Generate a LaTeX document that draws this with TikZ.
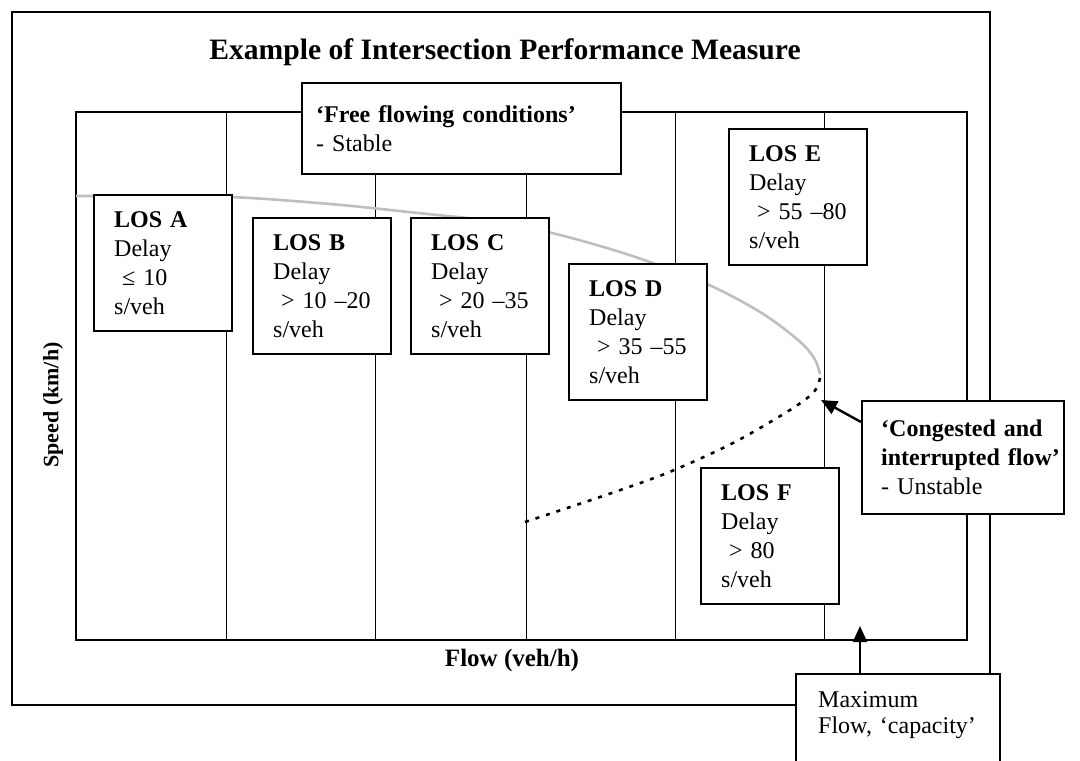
\documentclass[tikz,border=0pt]{standalone}
\usepackage{fontspec}
\setmainfont{Liberation Serif}
\usetikzlibrary{arrows.meta}
\begin{document}
\begin{tikzpicture}[x=0.5pt,y=-0.5pt,
  bodyfont/.style={font=\fontsize{12}{14.5}\selectfont},
  box/.style={draw, line width=1.2pt, fill=white, anchor=north west, align=left,
     inner ysep=0pt, bodyfont},
  losbox/.style={box, inner xsep=10pt, text width=49pt, minimum height=68pt},
  gridline/.style={line width=0.5pt},
  plotframe/.style={line width=1pt},
  arr/.style={line width=1.2pt, -{Triangle[length=8pt,width=7pt]}},
]
\useasboundingbox (0,0) rectangle (1080,760);
\clip (0,0) rectangle (1080,760);
\fill[white] (0,0) rectangle (1080,760);
% outer frame
\draw[line width=0.7pt] (12,12) rectangle (990,705);
% plot frame and grid
\draw[plotframe] (76,112) rectangle (967,640);
\foreach \x in {226,375,526,675,824} \draw[gridline] (\x,112) -- (\x,640);
% speed-flow curves
\draw[gray!50, line width=1.3pt] plot[smooth, tension=0.6] coordinates
  {(76,196) (150,196) (231,197) (330,204) (418,213) (500,222) (548,232) (600,246) (650,262) (707,284) (760,312) (798,340) (814,358) (820,374)};
\draw[line width=1.3pt, dash pattern=on 2pt off 3.5pt] plot[smooth] coordinates
  {(820,378) (814,392) (790,410) (733,443) (667,473) (600,497) (522,523)};
% title and axis labels
\node[font=\fontsize{14.8}{17}\selectfont\bfseries] (title) at (505,52) {Example of Intersection Performance Measure};
\node[font=\fontsize{11}{13}\selectfont\bfseries, rotate=90] (ylab) at (53,405) {Speed (km/h)};
\node[font=\fontsize{12.5}{15}\selectfont\bfseries] (xlab) at (512,660) {Flow (veh/h)};
% boxes
\node[box, inner xsep=7pt, text width=145.5pt, minimum height=45.5pt] (free) at (301,82)
  {\textbf{‘Free flowing conditions’}\\- Stable};
\node[losbox] (losA) at (93,194) {\textbf{LOS A}\\Delay\\\ ≤ 10\\s/veh};
\node[losbox] (losB) at (252,217) {\textbf{LOS B}\\Delay\\\ > 10 –20\\s/veh};
\node[losbox] (losC) at (410,217) {\textbf{LOS C}\\Delay\\\ > 20 –35\\s/veh};
\node[losbox] (losD) at (568,263) {\textbf{LOS D}\\Delay\\\ > 35 –55\\s/veh};
\node[losbox] (losE) at (728,128) {\textbf{LOS E}\\Delay\\\ > 55 –80\\s/veh};
\node[losbox] (losF) at (700,467) {\textbf{LOS F}\\Delay\\\ > 80\\s/veh};
\node[box, inner xsep=9.5pt, text width=82pt, minimum height=56.5pt] (cong) at (861,400)
  {\textbf{‘Congested~and}\\\textbf{interrupted~flow’}\\- Unstable};
\node[box, inner xsep=11pt, text width=80pt, minimum height=64pt, font=\fontsize{12}{13}\selectfont] (maxb) at (795,673)
  {Maximum\\Flow,~‘capacity’\\\mbox{}\\\mbox{}};
% arrows
\coordinate (jam) at (821,400);
\coordinate (cap) at (860,626);
\draw[arr] ([yshift=-11pt]cong.north west) -- (jam);
\draw[arr] ([xshift=32.5pt]maxb.north west) -- (cap);
\end{tikzpicture}
\end{document}
